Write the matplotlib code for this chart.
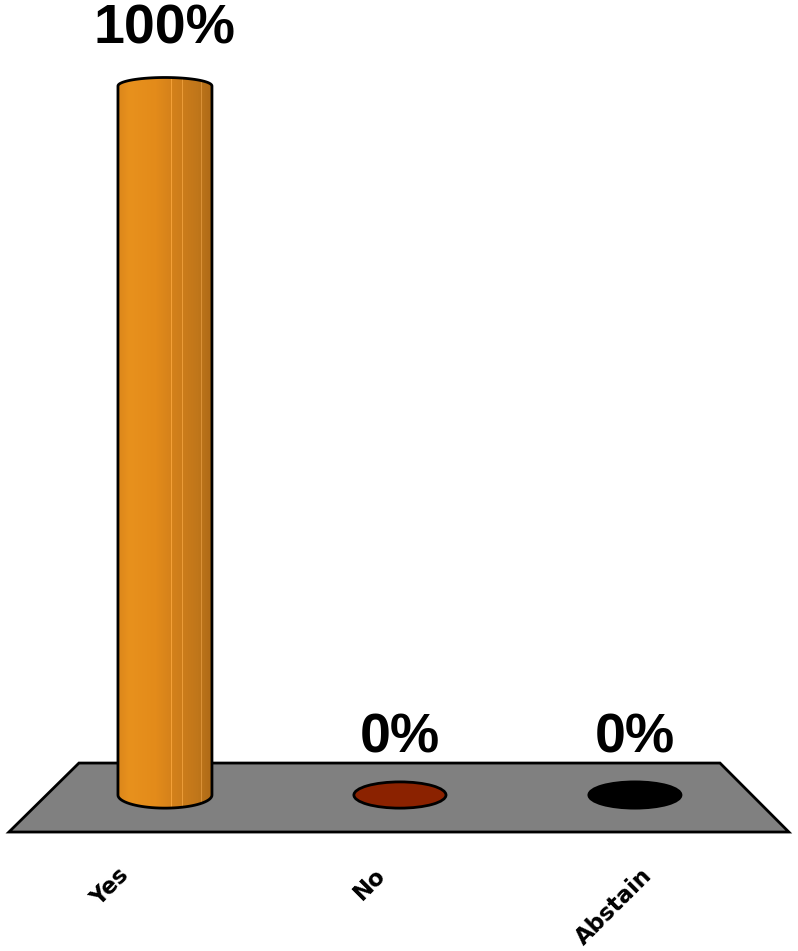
import numpy as np
import matplotlib
matplotlib.use("Agg")
import matplotlib.pyplot as plt
from matplotlib.patches import Polygon, Ellipse, PathPatch
from matplotlib.path import Path
from matplotlib.colors import to_rgb

# ---- data ----
categories = ["Yes", "No", "Abstain"]
values = [100, 0, 0]
value_labels = ["100%", "0%", "0%"]
zero_colors = ["#E8901C", "#8B2200", "#000000"]

# label x-offsets (points) for the rotated category labels (style)
label_dx = [-34.0, -19.0, 4.0]

# ---- figure ----
W, H = 798, 951
fig = plt.figure(figsize=(W / 100, H / 100), dpi=100)
ax = fig.add_axes([0, 0, 1, 1])
ax.set_xlim(-0.702, 2.694)
ax.set_ylim(-22.0, 112.13)
ax.axis("off")

# floor (trapezoid)
floor = Polygon([(-0.366, 4.51), (2.362, 4.51), (2.655, -5.22), (-0.664, -5.22)],
                closed=True, facecolor="#808080", edgecolor="black", lw=2, zorder=1)
ax.add_patch(floor)

half_w = 0.2
bot_h = 1.85   # half-height of bottom ellipse (data units)
top_h = 1.2    # half-height of top arc


def cylinder_path(xc, val):
    n = 40
    t = np.linspace(np.pi, 2 * np.pi, n)  # bottom half, left -> right
    bx = xc + half_w * np.cos(t)
    by = 0 + bot_h * np.sin(t)
    t2 = np.linspace(0, np.pi, n)  # top half, right -> left
    tx = xc + half_w * np.cos(t2)
    ty = val + top_h * np.sin(t2)
    xs = np.concatenate([bx, tx, [bx[0]]])
    ys = np.concatenate([by, ty, [by[0]]])
    codes = [Path.MOVETO] + [Path.LINETO] * (len(xs) - 2) + [Path.CLOSEPOLY]
    return Path(np.column_stack([xs, ys]), codes)


# gradient for cylinder body
stops = [(0.0, "#DB861B"), (0.12, "#E8911D"), (0.4, "#E38B1A"),
         (0.6, "#D2801A"), (0.85, "#C0761A"), (1.0, "#AE6A17")]
ncol = 200
fr = np.linspace(0, 1, ncol)
cols = np.zeros((ncol, 3))
for k in range(3):
    cols[:, k] = np.interp(fr, [s[0] for s in stops], [to_rgb(s[1])[k] for s in stops])
for lf in [0.16, 0.57, 0.69, 0.80, 0.89]:
    i = int(lf * (ncol - 1))
    cols[i] = np.clip(cols[i] + 0.12, 0, 1)
grad = np.tile(cols[None, :, :], (2, 1, 1))

for i, (cat, v) in enumerate(zip(categories, values)):
    if v > 0:
        path = cylinder_path(i, v)
        patch = PathPatch(path, facecolor="none", edgecolor="black", lw=2, zorder=4)
        ax.add_patch(patch)
        im = ax.imshow(grad, extent=[i - half_w, i + half_w, -bot_h, v + top_h],
                       aspect="auto", zorder=3, interpolation="nearest")
        im.set_clip_path(PathPatch(path, transform=ax.transData))
    else:
        e = Ellipse((i, v), 2 * half_w * 0.98, 2 * bot_h, facecolor=zero_colors[i],
                    edgecolor="black", lw=2, zorder=3)
        ax.add_patch(e)
    ax.annotate(value_labels[i], (i, v + bot_h), xytext=(0, 12.3), textcoords="offset points",
                ha="center", va="bottom", fontsize=40, fontweight="bold",
                family="Liberation Sans", zorder=5)
    ax.annotate(cat, (i, -9.7), xytext=(label_dx[i], 0), textcoords="offset points",
                ha="right", va="top", rotation=45, rotation_mode="anchor",
                fontsize=16.5, fontweight="bold", family="DejaVu Sans", zorder=5)

fig.savefig("out.png", dpi=100)
